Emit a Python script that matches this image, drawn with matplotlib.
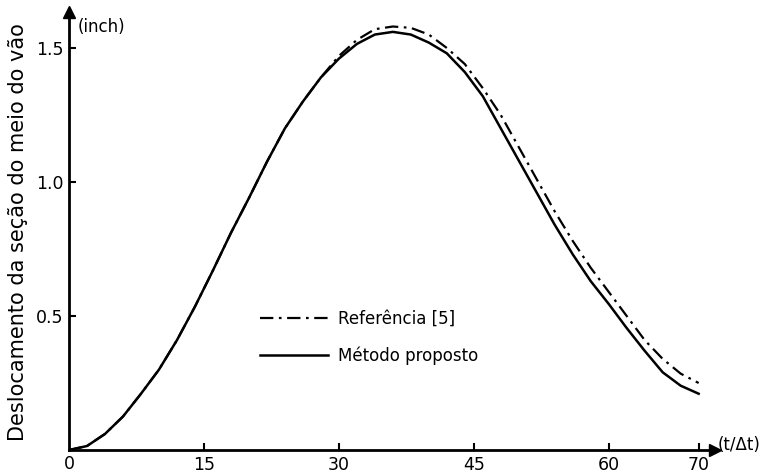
import matplotlib.pyplot as plt
import numpy as np

# passo de tempo (t/Δt) e deslocamentos (inch)
t = [0, 2, 4, 6, 8, 10, 12, 14, 16, 18, 20, 22, 24, 26, 28, 30, 32, 34,
     36, 38, 40, 42, 44, 46, 48, 50, 52, 54, 56, 58, 60, 62, 64, 66, 68, 70]
metodo = [0.0, 0.015, 0.06, 0.125, 0.21, 0.30, 0.41, 0.535, 0.67, 0.81,
          0.94, 1.075, 1.20, 1.30, 1.39, 1.46, 1.515, 1.55, 1.56, 1.55,
          1.52, 1.48, 1.41, 1.32, 1.20, 1.08, 0.96, 0.84, 0.73, 0.63,
          0.545, 0.455, 0.37, 0.29, 0.24, 0.21]
referencia = [0.0, 0.015, 0.06, 0.125, 0.21, 0.30, 0.41, 0.535, 0.67, 0.81,
              0.94, 1.075, 1.20, 1.30, 1.39, 1.47, 1.53, 1.57, 1.58, 1.575,
              1.55, 1.50, 1.44, 1.35, 1.25, 1.13, 1.01, 0.89, 0.78, 0.68,
              0.59, 0.50, 0.41, 0.34, 0.285, 0.25]

xticks = [15, 30, 45, 60, 70]
yticks = [0.5, 1.0, 1.5]

fig = plt.figure(figsize=(7.67, 4.74), dpi=100)
ax = fig.add_axes([0.09, 0.0506, 0.842, 0.924])

ax.plot(t, referencia, color='black', lw=1.6,
        linestyle=(0, (6, 2.5, 1.2, 2.5)), label='Referência [5]')
ax.plot(t, metodo, color='black', lw=1.8, label='Método proposto')

ax.set_xlim(0, 71.8)
ax.set_ylim(0, 1.634)

for s in ['top', 'right']:
    ax.spines[s].set_visible(False)
for s in ['left', 'bottom']:
    ax.spines[s].set_linewidth(2)

# setas dos eixos
ax.plot(1, 0, '>k', ms=8, transform=ax.get_yaxis_transform(), clip_on=False)
ax.plot(0, 1, '^k', ms=8, transform=ax.get_xaxis_transform(), clip_on=False)

ax.set_xticks(xticks)
ax.set_yticks(yticks)
ax.set_yticklabels(['0.5', '1.0', '1.5'])
ax.tick_params(direction='in', length=5, width=1.5, labelsize=12.5, pad=4)
ax.text(0, -0.012, '0', transform=ax.get_xaxis_transform(),
        ha='center', va='top', fontsize=12.5)

fig.text(78/767, 1-27/474, '(inch)', fontsize=12, va='center', ha='left')
fig.text(718/767, 1-445/474, '(t/Δt)', fontsize=12, va='center', ha='left')
fig.text(18/767, 1-232/474, 'Deslocamento da seção do meio do vão',
         rotation=90, fontsize=15, ha='center', va='center')

ax.legend(loc='upper left', bbox_to_anchor=(260/767, 1-310/474),
          bbox_transform=fig.transFigure, frameon=False, fontsize=12,
          handlelength=4.05, handletextpad=0.6, labelspacing=1.1,
          borderpad=0, borderaxespad=0)

fig.savefig('out.png', dpi=100)
